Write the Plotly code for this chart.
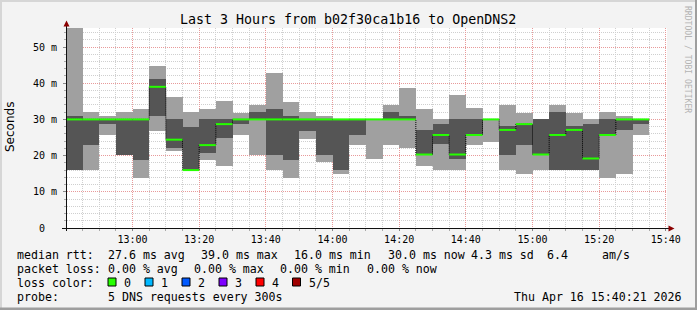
import plotly.graph_objects as go
import pandas as pd

# ---------------- data ----------------
t_start = "2026-04-16 12:40:21"
t_end = "2026-04-16 15:40:21"
step_ends = pd.date_range("2026-04-16 12:45:00", "2026-04-16 15:35:00", freq="5min")

ping_min = [16.0, 16.0, 25.7, 20.2, 13.9, 26.8, 21.4, 16.0, 18.8, 17.2, 25.7, 20.2,
            16.0, 13.9, 24.7, 18.3, 14.9, 22.9, 19.2, 22.9, 22.0, 17.2, 16.0, 16.0,
            22.9, 23.8, 16.0, 14.9, 16.0, 16.0, 16.0, 16.0, 13.9, 14.9, 25.7]
ping_p2 = [16.0, 22.9, 28.7, 20.2, 18.8, 30.9, 22.0, 16.0, 20.8, 24.9, 28.7, 30.0,
           20.2, 18.8, 26.8, 20.2, 16.0, 25.7, 30.0, 30.0, 30.0, 20.3, 23.2, 19.0,
           25.7, 30.0, 20.3, 22.9, 20.3, 16.0, 16.0, 16.0, 25.7, 27.1, 28.7]
median = [30.0, 30.0, 30.0, 30.0, 30.0, 39.0, 24.4, 16.0, 22.9, 28.7, 30.0, 30.0,
          30.0, 30.0, 30.0, 30.0, 30.0, 30.0, 30.0, 30.0, 30.0, 20.3, 25.7, 20.3,
          25.7, 30.0, 27.1, 28.7, 20.3, 25.7, 27.1, 19.2, 25.7, 30.0, 30.0]
ping_p4 = [30.9, 30.0, 30.0, 30.0, 30.0, 41.2, 30.0, 28.0, 30.0, 30.0, 30.0, 32.0,
           33.0, 30.9, 30.0, 30.0, 30.0, 30.0, 30.0, 32.0, 30.9, 27.1, 28.7, 30.0,
           30.0, 30.0, 28.2, 28.7, 30.0, 32.0, 28.2, 28.7, 30.0, 30.0, 30.0]
ping_max = [55.2, 32.0, 30.9, 32.0, 33.0, 44.8, 36.2, 32.0, 33.0, 35.1, 31.7, 34.0,
            42.9, 34.8, 32.0, 30.9, 30.0, 30.0, 30.0, 34.0, 38.7, 33.0, 30.0, 36.7,
            33.1, 30.0, 34.0, 31.9, 30.0, 34.0, 31.9, 30.0, 32.0, 30.9, 30.0]

y_tickvals = [0, 10, 20, 30, 40, 50]
y_ticktext = ["0\u00a0\u00a0", "10 m", "20 m", "30 m", "40 m", "50 m"]

title = "Last 3 Hours from b02f30ca1b16 to OpenDNS2"
stat_rtt = ["median rtt:", "27.6 ms avg", "39.0 ms max", "16.0 ms min", "30.0 ms now",
            "4.3 ms sd", "6.4", "am/s"]
stat_loss = ["packet loss:", "0.00 % avg", "0.00 % max", "0.00 % min", "0.00 % now"]
loss_labels = ["0", "1", "2", "3", "4", "5/5"]
loss_colors = ["#26ff00", "#00b8ff", "#0059ff", "#7e00ff", "#ff0000", "#a00000"]
probe_text = ["probe:", "5 DNS requests every 300s"]
date_text = "Thu Apr 16 15:40:21 2026"

# ---------------- geometry helpers ----------------
L, T, W, H = 67, 28, 600, 200
def xp(px):
    return (px - L) / W
def yp(py):
    return (T + H - py) / H

starts = pd.to_datetime([t_start] + list(step_ends[:-1]))
ends = pd.to_datetime(list(step_ends))
centers = starts + (ends - starts) / 2
widths = [(e - s).total_seconds() * 1000 for s, e in zip(starts, ends)]

fig = go.Figure()
fig.add_trace(go.Bar(x=centers, y=[a - b for a, b in zip(ping_max, ping_min)], base=ping_min,
                     width=widths, marker=dict(color="#a0a0a0", line=dict(width=0)),
                     hoverinfo="skip", showlegend=False))
fig.add_trace(go.Bar(x=centers, y=[a - b for a, b in zip(ping_p4, ping_p2)], base=ping_p2,
                     width=widths, marker=dict(color="#555555", line=dict(width=0)),
                     hoverinfo="skip", showlegend=False))

# dotted vertical transitions of the median
step_x = list(starts) + [ends[-1]]
step_y = list(median) + [median[-1]]
fig.add_trace(go.Scatter(x=step_x, y=step_y, mode="lines", line=dict(color="#000000", width=1, dash="1px,1px", shape="hv"),
                         hoverinfo="skip", showlegend=False))
# green median segments
gx, gy = [], []
for s, e, m in zip(starts, ends, median):
    gx += [s, e, None]
    gy += [m, m, None]
fig.add_trace(go.Scatter(x=gx, y=gy, mode="lines", line=dict(color=loss_colors[0], width=2),
                         hoverinfo="skip", showlegend=False))

mono = "DejaVu Sans Mono"
grid_minor = "#cfcfcf"
grid_major = "#e89a9a"

fig.update_layout(
    width=697, height=310,
    margin=dict(l=L, r=697 - L - W, t=T, b=310 - T - H),
    paper_bgcolor="#f3f3f3", plot_bgcolor="#ffffff",
    barmode="overlay", bargap=0,
    font=dict(family=mono, size=10, color="#000000"),
    xaxis=dict(type="date", range=[t_start, t_end], tick0="2026-04-16 13:00:00", dtick=1200000,
               tickformat="%H:%M", showgrid=True, gridcolor=grid_major, griddash="1px,1px", gridwidth=1,
               ticks="outside", ticklen=2, tickcolor="#888888", zeroline=False, showline=False,
               tickfont=dict(family=mono, size=10, color="#000000"),
               minor=dict(dtick=300000, tick0="2026-04-16 13:00:00", showgrid=True, gridcolor=grid_minor,
                          griddash="1px,1px", ticks="outside", ticklen=2, tickcolor="#aaaaaa"),
               fixedrange=True),
    yaxis=dict(range=[0, H / 3.62], tickvals=y_tickvals, ticktext=y_ticktext, showgrid=True,
               gridcolor=grid_major, griddash="1px,1px", ticks="outside", ticklen=3, tickcolor="#888888",
               zeroline=False, showline=False, ticklabelstandoff=4,
               tickfont=dict(family=mono, size=10, color="#000000"),
               minor=dict(dtick=2, showgrid=True, gridcolor=grid_minor, griddash="1px,1px",
                          ticks="outside", ticklen=2, tickcolor="#aaaaaa"),
               fixedrange=True),
    showlegend=False,
)

shapes = []
# frame
shapes.append(dict(type="rect", xref="paper", yref="paper", x0=xp(0), x1=xp(697), y0=yp(0), y1=yp(2),
                   fillcolor="#d6d6d6", line=dict(width=0), layer="above"))
shapes.append(dict(type="rect", xref="paper", yref="paper", x0=xp(0), x1=xp(2), y0=yp(0), y1=yp(310),
                   fillcolor="#d6d6d6", line=dict(width=0), layer="above"))
shapes.append(dict(type="rect", xref="paper", yref="paper", x0=xp(0), x1=xp(697), y0=yp(307.5), y1=yp(310),
                   fillcolor="#9e9e9e", line=dict(width=0), layer="above"))
shapes.append(dict(type="rect", xref="paper", yref="paper", x0=xp(695), x1=xp(697), y0=yp(0), y1=yp(310),
                   fillcolor="#9e9e9e", line=dict(width=0), layer="above"))
# axes
shapes.append(dict(type="line", xref="paper", yref="paper", x0=xp(62), x1=xp(670), y0=yp(228.5), y1=yp(228.5),
                   line=dict(color="#101010", width=1), layer="above"))
shapes.append(dict(type="line", xref="paper", yref="paper", x0=xp(66.5), x1=xp(66.5), y0=yp(231), y1=yp(24),
                   line=dict(color="#101010", width=1), layer="above"))
# arrows
shapes.append(dict(type="path", xref="paper", yref="paper",
                   path=f"M {xp(63.5)} {yp(26.5)} L {xp(69.5)} {yp(26.5)} L {xp(66.5)} {yp(20.5)} Z",
                   fillcolor="#8b0000", line=dict(width=0), layer="above"))
shapes.append(dict(type="path", xref="paper", yref="paper",
                   path=f"M {xp(668.5)} {yp(225.5)} L {xp(668.5)} {yp(231.5)} L {xp(674.5)} {yp(228.5)} Z",
                   fillcolor="#8b0000", line=dict(width=0), layer="above"))

ann = []
def text(px, py, s, size=11.6, anchor="left", color="#000000", family=mono, angle=0):
    ann.append(dict(x=xp(px), y=yp(py), xref="paper", yref="paper", text=s, showarrow=False,
                    xanchor=anchor, yanchor="middle", textangle=angle, borderpad=0,
                    font=dict(family=family, size=size, color=color)))

text(348, 20, title, size=13.3, anchor="center")
text(10, 127, "Seconds", size=12, anchor="center", family="DejaVu Sans", angle=-90)
text(688, 59, "RRDTOOL / TOBI OETIKER", size=8.1, anchor="center", color="#b4b4b4", angle=90)

rtt_x = [16, 107, 200, 293, 387, 470, 546, 601]
for px, s in zip(rtt_x, stat_rtt):
    text(px, 254.5, s)
loss_x = [16, 107, 193.3, 279.3, 365.7]
for px, s in zip(loss_x, stat_loss):
    text(px, 268.5, s)
text(16, 282.5, "loss color:")
box_x = [108, 145, 182, 219, 256, 292.5]
for bx, lab, col in zip(box_x, loss_labels, loss_colors):
    shapes.append(dict(type="rect", xref="paper", yref="paper", x0=xp(bx), x1=xp(bx + 8), y0=yp(278), y1=yp(286),
                       fillcolor=col, line=dict(color="#000000", width=1), layer="above"))
    text(bx + 15, 282.5, lab)
text(16, 296.5, probe_text[0])
text(107, 296.5, probe_text[1])
text(513, 296.5, date_text)

fig.update_layout(shapes=shapes, annotations=ann)
fig.write_html("out.html")
